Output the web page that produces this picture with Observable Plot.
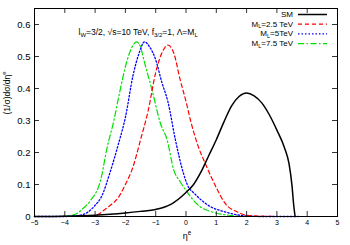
<!DOCTYPE html>
<html><head><meta charset="utf-8">
<script src="https://cdn.jsdelivr.net/npm/d3@7"></script>
<script src="https://cdn.jsdelivr.net/npm/@observablehq/plot@0.6"></script>
<style>
body{margin:0;background:#fff;font-family:"Liberation Sans",Arial,sans-serif;}
</style></head><body><div id="chart"></div>
<script>
const seriesNames = ["SM", "M_{L}=2.5 TeV", "M_{L}=5TeV", "M_{L}=7.5 TeV"];
const seriesColors = ["#000000", "#ff0000", "#0000ff", "#00e000"];
const seriesDash = [null, "4,3", "1.5,2", "6,2.5,1.5,2.5"];
const seriesWidth = [1.5, 1.2, 1.3, 1.2];

const smEta = [-5,-4,-3,-2.5,-2,-1.5,-1,-0.5,0,0.25,0.5,0.75,1,1.25,1.5,1.75,2,2.25,2.5,2.75,3,3.25,3.4,3.5,3.55,3.6];
const smVal = [0,0.001,0.004,0.007,0.011,0.016,0.022,0.038,0.075,0.10,0.14,0.19,0.24,0.295,0.345,0.375,0.386,0.377,0.355,0.318,0.27,0.215,0.165,0.095,0.04,0];

const m25Eta = [-5,-3.5,-3,-2.7,-2.5,-2.25,-2,-1.75,-1.5,-1.25,-1,-0.75,-0.6,-0.4,-0.2,0,0.15,0.4,0.64,1,1.3,1.7,2,2.5,3,3.7];
const m25Val = [0,0,0.003,0.02,0.035,0.057,0.10,0.155,0.24,0.33,0.45,0.52,0.536,0.51,0.43,0.36,0.30,0.22,0.165,0.09,0.04,0.014,0.004,0.001,0,0];

const m5Eta = [-5,-4,-3.5,-3.25,-3,-2.8,-2.5,-2.25,-2,-1.75,-1.55,-1.37,-1.2,-1,-0.8,-0.6,-0.35,-0.1,0.04,0.3,0.75,1.3,1.85,2.5,3.7];
const m5Val = [0,0,0.004,0.013,0.035,0.06,0.14,0.22,0.31,0.44,0.51,0.546,0.53,0.49,0.42,0.36,0.24,0.14,0.10,0.07,0.034,0.014,0.003,0,0];

const m75Eta = [-5,-4.2,-3.8,-3.59,-3.4,-3.15,-2.82,-2.6,-2.38,-2.22,-1.94,-1.75,-1.63,-1.5,-1.39,-1.12,-0.84,-0.62,-0.4,-0.2,0.04,0.42,0.86,1.4,2,3.7];
const m75Val = [0,0,0.003,0.01,0.025,0.05,0.113,0.217,0.30,0.374,0.489,0.535,0.546,0.53,0.489,0.395,0.29,0.238,0.144,0.11,0.076,0.034,0.014,0.004,0,0];

const xTicks = [-5,-4,-3,-2,-1,0,1,2,3,4,5];
const yTicks = [0,0.1,0.2,0.3,0.4,0.5,0.6];
const yTickLabels = ["0","0.1","0.2","0.3","0.4","0.5","0.6"];
const annotation = "l_{W}=3/2, √s=10 TeV, f_{3/2}=1, Λ=M_{L}";
const xLabel = "η^{e}";
const yLabel = "(1/σ)dσ/dη^{e}";

const etas = [smEta, m25Eta, m5Eta, m75Eta];
const vals = [smVal, m25Val, m5Val, m75Val];

const W = 350, H = 245, ML = 34, MR = 13, MT = 8, MB = 29;
const fw = W - ML - MR, fh = H - MT - MB;

const lines = etas.map((e, i) => Plot.line(e.map((x, j) => ({x, y: vals[i][j]})), {
  x: "x", y: "y", stroke: seriesColors[i], strokeWidth: seriesWidth[i],
  strokeDasharray: seriesDash[i], curve: "monotone-x"
}));

const chart = Plot.plot({
  width: W, height: H,
  marginLeft: ML, marginRight: MR, marginTop: MT, marginBottom: MB,
  style: {fontFamily: "Liberation Sans, Arial, sans-serif", background: "#fff"},
  x: {domain: [-5, 5]},
  y: {domain: [0, 0.65]},
  marks: [
    ...lines.slice(1).reverse(), lines[0],
    Plot.tickX(xTicks, {x: d => d, insetTop: fh - 5, stroke: "#000", strokeWidth: 0.8}),
    Plot.tickX(xTicks, {x: d => d, insetBottom: fh - 5, stroke: "#000", strokeWidth: 0.8}),
    Plot.tickY(yTicks, {y: d => d, insetRight: fw - 5, stroke: "#000", strokeWidth: 0.8}),
    Plot.tickY(yTicks, {y: d => d, insetLeft: fw - 5, stroke: "#000", strokeWidth: 0.8}),
    Plot.frame({stroke: "#000", strokeWidth: 1}),
    Plot.axisX({ticks: xTicks, tickSize: 0, tickPadding: 4, fontSize: 7, label: null}),
    Plot.axisY({ticks: yTicks, tickSize: 0, tickPadding: 4, fontSize: 9.5, label: null, tickFormat: d => yTickLabels[yTicks.indexOf(d)]}),
    Plot.text([annotation], {text: d => d, frameAnchor: "top-left", dx: 44, dy: 24, textAnchor: "start", lineAnchor: "middle", fontSize: 8.5}),
    Plot.text([xLabel], {text: d => d, frameAnchor: "bottom", dx: 1, dy: 20, lineAnchor: "middle", fontSize: 9}),
    Plot.text([yLabel], {text: d => d, frameAnchor: "left", dx: -27, dy: 2, rotate: -90, lineAnchor: "middle", fontSize: 8.5})
  ]
});

const svg = d3.select(chart);

// legend
const lg = svg.append("g").attr("font-size", 8).attr("font-family", "Liberation Sans, Arial, sans-serif");
seriesNames.forEach((name, i) => {
  const cy = 14.5 + i * 9.7;
  lg.append("text").attr("x", 293).attr("y", cy).attr("dy", "0.3em").attr("text-anchor", "end").text(name);
  lg.append("line").attr("x1", 298).attr("x2", 327).attr("y1", cy).attr("y2", cy)
    .attr("stroke", seriesColors[i]).attr("stroke-width", seriesWidth[i])
    .attr("stroke-dasharray", seriesDash[i]);
});

// rich text: _{..} subscripts, ^{..} superscripts
function rich(el) {
  const s = el.textContent;
  if (!/[_^]\{/.test(s)) return;
  const parts = [];
  const re = /([_^])\{([^}]*)\}/g;
  let last = 0, m;
  while ((m = re.exec(s))) {
    if (m.index > last) parts.push({t: s.slice(last, m.index), k: ""});
    parts.push({t: m[2], k: m[1]});
    last = re.lastIndex;
  }
  if (last < s.length) parts.push({t: s.slice(last), k: ""});
  const sel = d3.select(el);
  const fs = parseFloat(getComputedStyle(el).fontSize) || parseFloat(el.closest("[font-size]")?.getAttribute("font-size")) || 9;
  sel.text(null);
  let shift = 0;
  parts.forEach(p => {
    const target = p.k === "_" ? fs * 0.2 : p.k === "^" ? -fs * 0.45 : 0;
    const ts = sel.append("tspan").text(p.t);
    if (target !== shift) { ts.attr("dy", target - shift); shift = target; }
    if (p.k) ts.attr("font-size", fs * 0.7);
  });
}
svg.selectAll("text").each(function() { rich(this); });

document.getElementById("chart").appendChild(chart);
</script></body></html>
